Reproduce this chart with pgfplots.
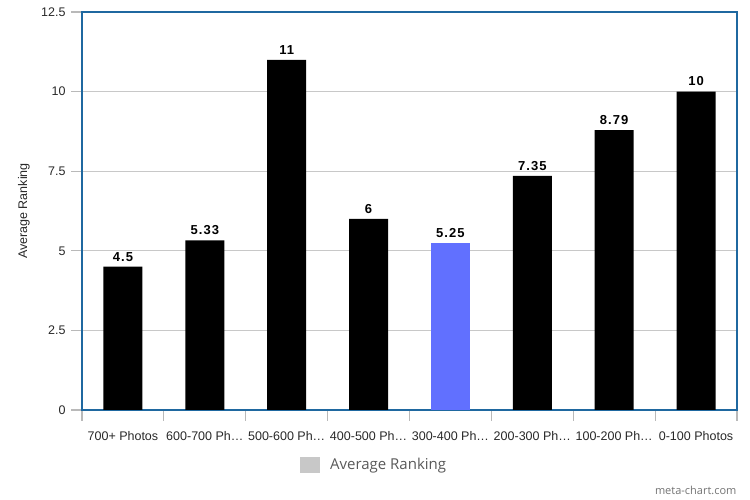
\documentclass[border=0pt]{standalone}
\usepackage{fontspec}
\setmainfont{Liberation Sans}
\newfontfamily\legfont{Open Sans}
\usepackage{pgfplots}
\pgfplotsset{compat=1.18}
\definecolor{axblue}{RGB}{31,104,160}
\definecolor{barblue}{RGB}{97,112,255}
\definecolor{gridgray}{RGB}{200,200,200}
\definecolor{tickgray}{RGB}{185,185,185}
\definecolor{txt}{RGB}{40,40,40}
\begin{document}
\begin{tikzpicture}[x=1pt,y=1pt]
\path[use as bounding box] (0,0) rectangle (750,500);
\begin{axis}[
  at={(82pt,90pt)}, anchor=south west,
  scale only axis, width=655pt, height=398pt,
  xmin=-0.5, xmax=7.5, ymin=0, ymax=12.5,
  ytick={0,2.5,...,12.5},
  yticklabels={0,2.5,5,7.5,10,12.5},
  xtick={-0.5,0.5,...,7.5},
  xticklabels={},
  extra x ticks={0,...,7},
  extra x tick labels={700+ Photos,600-700 Ph\ldots,500-600 Ph\ldots,400-500 Ph\ldots,300-400 Ph\ldots,200-300 Ph\ldots,100-200 Ph\ldots,0-100 Photos},
  extra x tick style={major tick length=0pt, grid=none},
  tick align=outside,
  xtick pos=bottom, ytick pos=left,
  major tick length=11pt,
  x tick style={draw=tickgray, line width=1.2pt},
  y tick style={draw=tickgray, line width=1.2pt},
  ymajorgrids, grid style={draw=gridgray, line width=0.9pt},
  axis line style={draw=axblue, line width=1.6pt},
  ticklabel style={font=\fontsize{12.5}{14}\selectfont, text=txt},
  yticklabel style={xshift=-2pt},
  xticklabel style={yshift=-18pt},
  ylabel={Average Ranking},
  ylabel style={font=\fontsize{12.5}{14}\selectfont, text=txt, at={(axis description cs:0,0.5)}, anchor=center, yshift=58pt},
  /pgf/number format/assume math mode=true,
  bar shift=0pt,
  bar width=39pt,
  nodes near coords,
  point meta=explicit symbolic,
  every node near coord/.append style={font=\bfseries\fontsize{13}{15}\selectfont\addfontfeatures{LetterSpace=8}, text=black, yshift=2pt},
  legend style={at={(axis description cs:0.446,-0.138)}, anchor=center, draw=none, fill=none,
    font=\legfont\fontsize{15}{17}\selectfont, text=black!65},
  legend image code/.code={\fill[gridgray] (0pt,-8pt) rectangle (20pt,8pt);},
  legend cell align=left,
  clip=false,
]
\addplot[ybar, fill=black, draw=none] coordinates {
  (0,4.5) [4.5]
  (1,5.33) [5.33]
  (2,11) [11]
  (3,6) [6]
  (5,7.35) [7.35]
  (6,8.79) [8.79]
  (7,10) [10]
};
\addlegendentry{\hspace{8pt}Average Ranking}
\addplot[ybar, fill=barblue, draw=none] coordinates {
  (4,5.25) [5.25]
};
\end{axis}
\node[anchor=base east, font=\legfont\fontsize{11}{12}\selectfont, text=black!55] at (740,5) {meta-chart.com};
\end{tikzpicture}
\end{document}
